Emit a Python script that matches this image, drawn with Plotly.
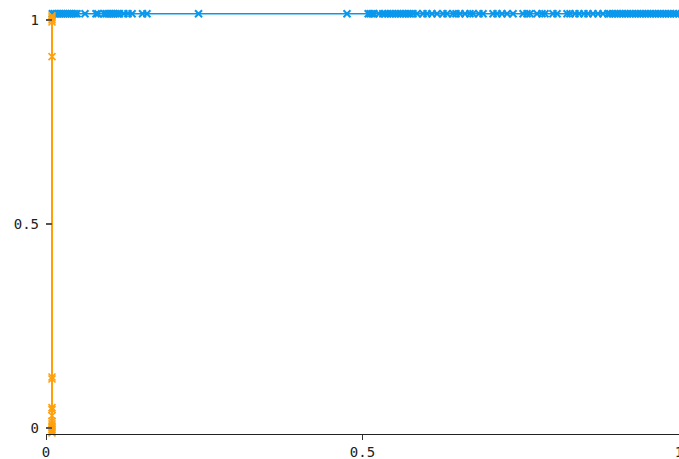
import plotly.graph_objects as go

# Blue series (x positions of points, all at the top level)
blue_x = [
    0.010, 0.013, 0.016, 0.019, 0.022, 0.025, 0.028, 0.031, 0.034, 0.037, 0.040, 0.043, 0.046, 0.049,
    0.0616, 0.079, 0.082,
    0.092, 0.095, 0.098, 0.101, 0.104, 0.107, 0.110, 0.113, 0.116,
    0.123, 0.1295, 0.136, 0.1525, 0.1595, 0.241, 0.4755,
    0.509, 0.512, 0.515, 0.518, 0.526,
    0.532, 0.536, 0.540, 0.544, 0.548, 0.552, 0.556, 0.560, 0.564, 0.568, 0.572, 0.575,
    0.5798, 0.5861, 0.5956, 0.6019, 0.6098, 0.6177, 0.6272, 0.6335, 0.6430, 0.6477,
    0.6540, 0.6619, 0.6698, 0.6746, 0.6840, 0.6904, 0.7062, 0.7125, 0.7204, 0.7283,
    0.7378, 0.7536, 0.7599, 0.7646, 0.7757, 0.7836, 0.7883, 0.8009, 0.8073, 0.8231,
    0.8278, 0.8357, 0.8420, 0.8499, 0.8562, 0.8641, 0.8720, 0.8799, 0.8878,
    0.891, 0.895, 0.899, 0.903, 0.907, 0.911, 0.915, 0.919, 0.923, 0.927, 0.931, 0.935,
    0.939, 0.943, 0.947, 0.951, 0.955, 0.959, 0.963, 0.967, 0.971, 0.975, 0.979, 0.983,
    0.987, 0.991, 0.995, 1.000,
]
blue_level = 1.015
blue_y = [blue_level] * len(blue_x)

# Orange series (vertical, near x = 0.01)
orange_y = [-0.012, -0.008, -0.004, 0.0, 0.005, 0.01, 0.017, 0.03, 0.045, 0.05,
            0.12, 0.125, 0.91, 0.995, 1.0, 1.005, 1.01]
orange_xval = 0.0095
orange_x = [orange_xval] * len(orange_y)

tick_vals = [0, 0.5, 1]
tick_text = ["0", "0.5", "1"]

BLUE = "#0b98ec"
ORANGE = "#ffa00a"
FONT = dict(family="DejaVu Sans Mono", size=14, color="#222222")

fig = go.Figure()
fig.add_trace(go.Scatter(
    x=blue_x, y=blue_y, mode="lines+markers",
    line=dict(color=BLUE, width=1.5),
    marker=dict(symbol="x-thin", size=7, line=dict(color=BLUE, width=2), color=BLUE),
    showlegend=False, cliponaxis=False,
))
fig.add_trace(go.Scatter(
    x=orange_x, y=orange_y, mode="lines+markers",
    line=dict(color=ORANGE, width=2),
    marker=dict(symbol="x-thin", size=7, line=dict(color=ORANGE, width=1.6), color=ORANGE),
    showlegend=False, cliponaxis=False,
))

fig.update_layout(
    width=679, height=459,
    margin=dict(l=46, r=0, t=4, b=25, autoexpand=False),
    paper_bgcolor="white", plot_bgcolor="white",
    font=FONT,
    xaxis=dict(
        range=[0, 1], tickvals=tick_vals, ticktext=tick_text, automargin=False,
        showgrid=False, zeroline=False, showline=True, linecolor="#222222", linewidth=1.2,
        ticks="outside", ticklen=5, tickcolor="#333333", tickfont=FONT,
        ticklabeloverflow="allow",
    ),
    yaxis=dict(
        range=[-0.0147, 1.039], tickvals=tick_vals, ticktext=tick_text, automargin=False,
        showgrid=False, zeroline=False, showline=False,
        ticks="inside", ticklen=6, tickcolor="#555555", tickwidth=1.5, tickfont=FONT,
        ticklabelstandoff=6,
    ),
)

fig.write_html(
    "out.html",
    config={"displayModeBar": False},
    post_script="document.body.style.margin='0';document.body.style.overflow='hidden';",
)
